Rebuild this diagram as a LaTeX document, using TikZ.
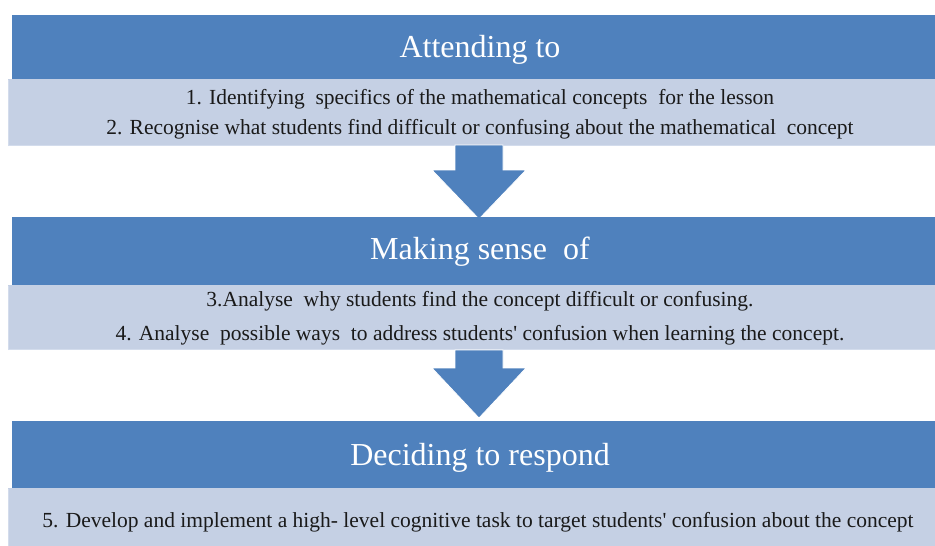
\documentclass[tikz,border=0pt]{standalone}
\usepackage{fontspec}
\setmainfont{Liberation Serif}[Ligatures=TeXOff]
\definecolor{hdrblue}{HTML}{4F81BD}
\definecolor{lightbox}{HTML}{C5D0E4}
\definecolor{lightedge}{HTML}{D3DCEC}
\definecolor{txt}{HTML}{1A1A1A}
\begin{document}
\begin{tikzpicture}[x=1pt,y=-1pt,
  hdrtext/.style={text=white, font=\fontsize{32}{36}\selectfont},
  bodytext/.style={text=txt, align=center},
  arrowfill/.style={fill=hdrblue, draw=white, line width=0.8pt}]
\useasboundingbox (0,0) rectangle (935,546);
% stage 1
\fill[hdrblue] (12,15) rectangle (935,79);
\node[hdrtext] (h1) at (480,50) {Attending to};
\fill[lightbox] (8,79) rectangle (935,146);
\draw[lightedge,line width=1pt] (8.5,146) -- (8.5,79.5);
\draw[lightedge,line width=1pt] (8.5,145.5) -- (935,145.5);
\node[bodytext,font=\fontsize{21.5}{30}\selectfont] (b1) at (480,114)
  {1. Identifying\ \ specifics of the mathematical concepts\ \ for the lesson\\
   2. Recognise what students find difficult or confusing about the mathematical\ \ concept};
% arrow 1
\filldraw[arrowfill] (455,145) -- (503,145) -- (503,170) -- (526,170) -- (479,219) -- (432,170) -- (455,170) -- cycle;
% stage 2
\fill[hdrblue] (12,217) rectangle (935,285);
\node[hdrtext] (h2) at (480,252) {Making sense\ \ of};
\fill[lightbox] (8,285) rectangle (935,350);
\draw[lightedge,line width=1pt] (8.5,350) -- (8.5,285.5);
\draw[lightedge,line width=1pt] (8.5,349.5) -- (935,349.5);
\node[bodytext,font=\fontsize{21.5}{34}\selectfont] (b2) at (480,318)
  {3.Analyse\ \ why students find the concept difficult or confusing.\\
   4. Analyse\ \ possible ways\ \ to address students' confusion when learning the concept.};
% arrow 2
\filldraw[arrowfill] (455,350) -- (503,350) -- (503,368) -- (526,368) -- (479,418) -- (432,368) -- (455,368) -- cycle;
% stage 3
\fill[hdrblue] (12,421) rectangle (935,488);
\node[hdrtext] (h3) at (480,458) {Deciding to respond};
\fill[lightbox] (8,488) rectangle (935,546);
\draw[lightedge,line width=1pt] (8.5,546) -- (8.5,488.5);
\node[bodytext,font=\fontsize{21.5}{30}\selectfont] (b3) at (478,522)
  {5. Develop and implement a high- level cognitive task to target students' confusion about the concept};
\end{tikzpicture}
\end{document}
